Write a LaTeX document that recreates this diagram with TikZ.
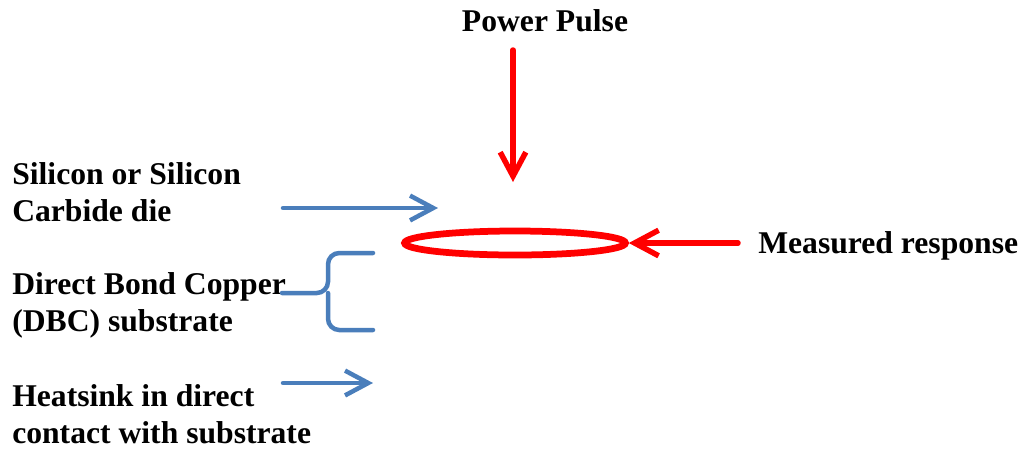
\documentclass[tikz,border=0pt]{standalone}
\usepackage{fontspec}
\setmainfont{Liberation Serif}
\usetikzlibrary{arrows.meta, positioning, shapes.geometric}
\definecolor{pulsered}{RGB}{255,0,0}
\definecolor{layerblue}{RGB}{74,126,187}

\begin{document}
\begin{tikzpicture}[
    x=0.025cm, y=-0.025cm,
    lbl/.style={anchor=base west, align=left, inner sep=0pt,
                font=\bfseries\fontsize{22.5}{26.3}\selectfont},
    redarr/.style={-{Straight Barb[length=0.6cm, width=0.64cm]}, line width=3.9pt,
                   draw=pulsered, line cap=round},
    bluearr/.style={-{Straight Barb[length=0.58cm, width=0.62cm]}, line width=3.2pt,
                    draw=layerblue, line cap=round},
    brace/.style={draw=layerblue, line width=3.2pt, line cap=round, rounded corners=8pt},
]
\useasboundingbox (0,0) rectangle (1026,450);

% multi-line labels sit on the baseline of their last line
\node[lbl, anchor=base] (pulse) at (545,31) {Power Pulse};
\node[lbl] (sic) at (12,221) {Silicon or Silicon\\Carbide die};
\node[lbl] (dbc) at (12,331) {Direct Bond Copper\\(DBC) substrate};
\node[lbl] (sink) at (12,443) {Heatsink in direct\\contact with substrate};
\node[lbl] (resp) at (758,253) {Measured response};

% the die seen from the side
\node[ellipse, draw=pulsered, line width=4.8pt, minimum width=5.52cm,
      minimum height=0.6cm, inner sep=0pt] (die) at (515,243) {};

% ends of the arrows
\coordinate (pulsefrom) at (513,50);
\coordinate (pulseto) at (513,182);
\coordinate (respfrom) at (738,243);
\coordinate (sicfrom) at (283,208);
\coordinate (sicto) at (438,208);
\coordinate (sinkfrom) at (283,383);
\coordinate (sinkto) at (373,383);
\coordinate (bracetip) at (282,293);

\draw[redarr] (pulsefrom) -- (pulseto);
\draw[redarr] (respfrom) -- (die.east);
\draw[bluearr] (sicfrom) -- (sicto);
\draw[bluearr] (sinkfrom) -- (sinkto);

% brace round the substrate
\draw[brace] (373,253) -| (328,293) -- (bracetip);
\draw[brace] (373,330) -| (328,293);

\end{tikzpicture}
\end{document}
